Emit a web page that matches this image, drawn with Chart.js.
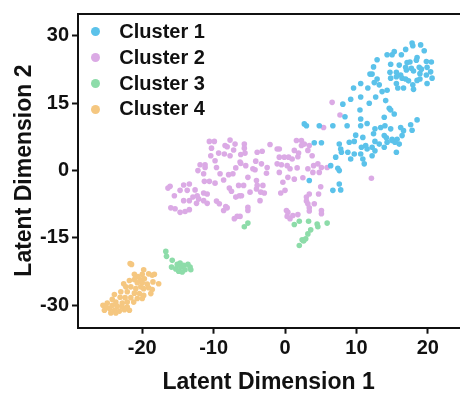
<!DOCTYPE html>
<html>
<head>
<meta charset="utf-8">
<script src="https://cdn.jsdelivr.net/npm/chart.js@4.4.1/dist/chart.umd.min.js"></script>
<style>
  body { margin: 0; background: #fff; }
  .chart-box { position: relative; width: 462px; height: 396px; overflow: hidden; }
  .cluster-legend {
    position: absolute; left: 90.5px; top: 18.8px;
    font: bold 20px "Liberation Sans", Arial, sans-serif; color: #111;
  }
  .cluster-legend .item { display: flex; align-items: center; height: 25.9px; line-height: 25.9px; }
  .cluster-legend .dot { width: 9px; height: 9px; border-radius: 50%; margin-right: 19.8px; }
</style>
</head>
<body>
<div class="chart-box">
  <canvas id="latent-scatter"></canvas>
  <div class="cluster-legend"></div>
</div>
<script>
const clusterNames = ["Cluster 1", "Cluster 2", "Cluster 3", "Cluster 4"];
const clusterColors = ["#5bc2ea", "#dbaae5", "#8ddca9", "#f5c780"];
const xTicks = [-20, -10, 0, 10, 20];
const yTicks = [-30, -15, 0, 15, 30];

// [dim1, dim2] per cell
const cluster1 = [
  [17.8, 28.4], [19.0, 28.0], [17.9, 27.8], [16.9, 27.0], [19.5, 26.7], [15.3, 26.5], [14.3, 25.8], [15.0, 25.8],
  [16.3, 25.8], [18.5, 25.2], [12.9, 24.7], [17.1, 24.1], [17.5, 24.2], [18.4, 24.6], [19.8, 24.3], [20.5, 24.2],
  [14.8, 23.7], [16.0, 23.5], [16.9, 23.0], [17.7, 22.8], [18.8, 23.0], [19.1, 22.6], [19.9, 23.0], [12.4, 23.1],
  [20.4, 22.0], [11.9, 21.5], [12.2, 21.5], [14.7, 21.9], [15.6, 21.9], [16.2, 21.3], [17.0, 22.4], [18.0, 22.2],
  [18.9, 21.6], [19.8, 21.3], [12.9, 20.4], [14.8, 20.6], [15.6, 20.9], [16.4, 20.6], [16.9, 20.4], [17.3, 20.0],
  [18.5, 20.1], [18.9, 20.4], [20.6, 20.6], [17.9, 19.1], [19.9, 19.4], [12.5, 19.6], [13.2, 19.1], [15.6, 19.4],
  [15.8, 18.4], [16.6, 18.4], [18.0, 18.1], [10.6, 19.4], [11.6, 18.4], [9.6, 18.4], [13.6, 17.6], [14.3, 17.9],
  [12.7, 16.4], [10.6, 16.4], [9.2, 15.9], [14.1, 15.6], [11.8, 15.0], [8.1, 14.8], [14.6, 13.9], [14.8, 13.5],
  [10.5, 13.5], [8.4, 12.0], [13.9, 11.9], [15.3, 12.6], [10.6, 11.5], [18.5, 11.3],
  [2.7, 10.4], [3.0, 10.0], [4.8, 10.0], [6.7, 10.0], [8.7, 10.0], [10.6, 10.0], [11.5, 10.5], [12.6, 9.3],
  [13.4, 9.6], [14.0, 10.0], [14.8, 9.3], [16.2, 9.6], [17.6, 10.2], [17.8, 9.0], [16.6, 8.9], [9.9, 7.9],
  [10.9, 7.4], [12.4, 8.2], [13.9, 7.8], [14.2, 7.3], [15.0, 7.0], [15.7, 7.0], [16.4, 7.8], [15.4, 6.3],
  [4.1, 6.2], [5.1, 6.2], [7.6, 5.9], [9.0, 6.3], [9.7, 6.5], [10.7, 5.2], [11.3, 5.6], [12.6, 6.5],
  [13.2, 5.9], [14.3, 6.3], [15.0, 6.7], [16.0, 5.9], [7.8, 4.8], [8.8, 4.1], [7.9, 4.1], [9.7, 3.7],
  [10.6, 3.7], [11.5, 4.8], [12.2, 5.2], [12.6, 4.4], [13.9, 5.2], [15.6, 4.1], [7.1, 3.0], [9.2, 2.6],
  [10.9, 2.6], [12.2, 3.3], [6.4, 1.1], [7.4, 0.5], [7.6, 0.0], [11.1, 1.5], [3.4, -2.2], [7.6, -3.0],
  [6.7, -4.4], [7.8, -4.3]
];

const cluster2 = [
  [6.6, 15.2], [7.7, 12.4], [5.4, 9.6], [12.1, -1.7],
  [-10.6, 6.5], [-9.9, 6.5], [-7.7, 6.8], [-8.4, 5.6], [-8.1, 5.3], [-7.0, 5.9], [-10.3, 5.0], [-7.2, 4.6],
  [-9.3, 3.9], [-8.5, 3.7], [-10.4, 3.3], [-7.7, 3.3], [-6.2, 3.6], [-9.8, 2.2], [-11.9, 1.3], [-11.2, 1.3],
  [-11.2, 0.7], [-12.2, 0.0], [-11.4, -0.7], [-9.6, 0.7], [-6.9, 0.6], [-6.2, 1.6], [-9.1, -0.7], [-7.9, -0.9],
  [-7.3, -0.7], [-8.6, -2.1], [-11.3, -2.4], [-10.6, -2.4], [-9.8, -2.8], [-6.5, -3.3], [-7.8, -3.9], [-7.5, -4.6],
  [-16.1, -3.5], [-16.4, -3.9], [-14.2, -3.2], [-13.4, -3.0], [-14.7, -4.4], [-13.7, -4.4], [-12.6, -4.3], [-11.4, -5.0],
  [-10.9, -5.2], [-12.3, -5.6], [-12.9, -5.9], [-15.5, -5.6], [-14.2, -6.7], [-13.4, -6.7], [-12.1, -6.3], [-11.4, -6.7],
  [-10.9, -7.3], [-9.6, -6.8], [-9.2, -7.4], [-8.3, -8.0], [-6.9, -5.9], [-6.4, -5.6], [-16.0, -8.3], [-15.4, -8.5],
  [-14.7, -9.3], [-14.0, -9.1], [-13.4, -8.7], [-12.4, -7.3], [-8.6, -8.9], [-8.1, -8.3], [-6.7, -10.2], [-7.1, -10.7],
  [-5.7, 5.9], [-5.7, 5.0], [-5.6, 3.9], [-6.3, 1.9], [-5.5, 1.1], [-4.1, 2.1], [-4.2, 0.2], [-5.2, -1.5],
  [-4.0, -2.2], [-3.9, -3.3], [-4.0, -4.1], [-3.4, -4.8], [-2.9, -5.0], [-5.8, -3.3], [-4.9, -4.8], [-6.1, -5.6],
  [-5.2, -8.2], [-5.2, -8.9], [-6.3, -10.2], [-2.6, -0.6], [-2.5, 0.7], [-3.3, 1.5], [-2.1, 5.8], [-3.9, 4.1],
  [-3.2, 4.3], [-4.5, 0.4], [-3.1, -3.3], [-3.5, -6.7], [-1.1, 4.8], [-0.8, 4.8], [-0.8, 3.0], [-0.1, 3.0],
  [0.5, 3.0], [-1.1, 1.5], [-0.5, 1.3], [0.3, 1.1], [1.0, 2.6], [1.3, 4.5], [1.6, 6.7], [2.3, 6.7],
  [2.3, 5.6], [2.7, 5.9], [3.4, 5.6], [1.9, 3.9], [1.8, 3.1], [3.2, 4.5], [3.8, 3.3], [1.7, 0.6],
  [0.7, 0.4], [-0.8, -0.4], [-0.3, -2.6], [-0.6, -5.0], [0.0, -4.4], [0.4, -1.5], [1.3, -1.9], [2.5, -1.6],
  [3.2, 0.4], [4.0, 1.1], [4.6, 1.5], [3.9, -0.4], [4.8, -0.4], [5.1, 0.7], [5.9, 0.7], [5.0, -3.6],
  [4.7, -5.2], [3.4, -5.2], [3.0, -5.9], [3.0, -6.8], [3.2, -7.4], [4.1, -7.4], [3.4, -8.3], [3.4, -9.0],
  [5.1, -8.9], [5.1, -9.6], [0.2, -8.9], [0.4, -9.3], [0.3, -10.2], [0.7, -10.7], [1.1, -10.0], [1.8, -9.8]
];

const cluster3 = [
  [-16.7, -18.0], [-16.6, -19.1], [-15.8, -20.0], [-15.9, -21.5], [-15.3, -21.9], [-15.1, -20.9], [-14.7, -20.6], [-14.6, -21.5],
  [-14.2, -21.1], [-14.0, -22.1], [-13.6, -20.9], [-13.3, -21.5], [-13.2, -22.1], [-14.9, -22.4], [-14.4, -22.6],
  [-5.7, -12.5], [-5.2, -11.7], [1.3, -12.0], [2.0, -11.3], [3.3, -11.3], [4.5, -11.9], [4.6, -12.5], [5.9, -11.7],
  [3.6, -13.2], [3.2, -14.1], [2.9, -15.2], [2.6, -15.7], [2.4, -15.4], [2.0, -16.7]
];

const cluster4 = [
  [-21.7, -20.7], [-21.5, -20.9], [-19.8, -22.1], [-21.1, -23.1], [-20.6, -23.6], [-20.0, -23.1], [-19.1, -23.0], [-18.6, -23.3],
  [-18.3, -23.1], [-21.8, -24.5], [-21.1, -24.3], [-20.3, -24.3], [-19.7, -24.1], [-20.7, -25.0], [-20.0, -25.0], [-19.3, -25.3],
  [-18.5, -24.8], [-17.7, -25.2], [-22.6, -25.2], [-22.3, -25.9], [-21.6, -25.9], [-20.9, -26.3], [-20.2, -25.9], [-19.8, -26.3],
  [-19.1, -26.1], [-18.6, -26.5], [-23.0, -27.0], [-22.1, -27.0], [-21.1, -27.3], [-20.4, -27.4], [-19.8, -27.8], [-18.8, -27.4],
  [-23.9, -27.6], [-23.1, -28.2], [-22.4, -28.3], [-21.6, -28.3], [-20.7, -28.5], [-20.0, -28.5], [-24.2, -28.7], [-23.7, -29.3],
  [-22.8, -29.5], [-22.1, -29.3], [-21.2, -29.3], [-24.9, -29.5], [-24.2, -30.0], [-23.5, -30.2], [-22.8, -30.4], [-22.1, -30.4],
  [-25.5, -30.0], [-25.1, -30.4], [-24.6, -30.7], [-23.9, -31.1], [-23.2, -31.3], [-22.5, -31.0], [-21.8, -31.1], [-24.4, -31.7],
  [-23.7, -31.7], [-25.3, -31.1]
];

const clusters = [cluster1, cluster2, cluster3, cluster4];

const axisFont = { family: "'Liberation Sans', Arial, sans-serif", size: 20, weight: "bold" };
const titleFont = { family: "'Liberation Sans', Arial, sans-serif", size: 23, weight: "bold" };
const ink = "#111";

const datasets = clusters.map((pts, i) => ({
  label: clusterNames[i],
  data: pts.map((p) => ({ x: p[0], y: p[1] })),
  backgroundColor: clusterColors[i],
  borderWidth: 0,
  pointRadius: 2.8,
  pointHoverRadius: 2.8,
}));

const ctx = document.getElementById("latent-scatter").getContext("2d");
new Chart(ctx, {
  type: "scatter",
  data: { datasets: datasets },
  options: {
    responsive: true,
    maintainAspectRatio: false,
    animation: false,
    events: [],
    layout: { padding: { top: 13.5, left: 0, right: 0, bottom: 0 } },
    plugins: { legend: { display: false }, tooltip: { enabled: false } },
    scales: {
      x: {
        type: "linear",
        min: -29,
        max: 24.4,
        afterBuildTicks: (scale) => {
          scale.ticks = xTicks.map((v) => ({ value: v }));
        },
        afterFit: (scale) => {
          scale.height = 68.3;
          // plot runs to the right edge, no room kept for end labels
          scale.paddingLeft = 0;
          scale.paddingRight = 0;
        },
        grid: { drawOnChartArea: false, tickLength: 6, tickWidth: 2, tickColor: ink },
        border: { display: true, color: ink, width: 2 },
        ticks: { font: axisFont, color: ink, padding: 3, maxRotation: 0 },
        title: { display: true, text: "Latent Dimension 1", font: titleFont, color: ink, padding: { top: 0, bottom: 0 } },
      },
      // top frame line
      xTop: {
        type: "linear",
        position: "top",
        grid: { display: false },
        ticks: { display: false },
        border: { display: true, color: ink, width: 2 },
        afterFit: (scale) => {
          scale.height = 0;
          scale.paddingLeft = 0;
          scale.paddingRight = 0;
        },
      },
      y: {
        type: "linear",
        min: -35,
        max: 35,
        afterBuildTicks: (scale) => {
          scale.ticks = yTicks.map((v) => ({ value: v }));
        },
        afterFit: (scale) => {
          scale.width = 78;
          scale.paddingTop = 0;
          scale.paddingBottom = 0;
        },
        grid: { drawOnChartArea: false, tickLength: 6, tickWidth: 2, tickColor: ink },
        border: { display: true, color: ink, width: 2 },
        ticks: { font: axisFont, color: ink, padding: 3 },
        title: { display: true, text: "Latent Dimension 2", font: titleFont, color: ink, padding: { top: 11, bottom: 0 } },
      },
    },
  },
});

// legend in the upper left of the plot
const legendContainer = document.querySelector(".cluster-legend");
legendContainer.innerHTML = clusterNames
  .map(
    (name, i) => `
  <div class="item"><span class="dot" style="background:${clusterColors[i]}"></span>${name}</div>`
  )
  .join("");
</script>
</body>
</html>
